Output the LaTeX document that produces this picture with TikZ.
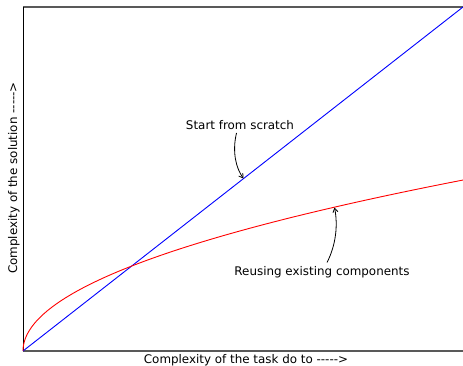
\documentclass[tikz,border=0pt]{standalone}
\usepackage{fontspec}
\setmainfont{DejaVu Sans}
\usetikzlibrary{arrows.meta}
\newcommand\myarrowtext{-{}-{}-{}-{}-{}>}
\begin{document}
\begin{tikzpicture}[x=1pt,y=-1pt,
  lbl/.style={font=\fontsize{11.9}{14}\selectfont, inner sep=0pt, anchor=base},
  frameline/.style={draw=black!65, line width=1.2pt},
  axisline/.style={draw=black, line width=1pt},
  callout/.style={draw=black, line width=0.8pt, -{Straight Barb[length=4pt,width=5pt]}}]
\useasboundingbox (0,0) rectangle (463,366);
\coordinate (O) at (23,351);
\coordinate (TL) at (23,7);
\coordinate (TR) at (463,7);
\coordinate (BR) at (463,351);
\draw[frameline] (TL) -- (TR);
\draw[frameline] (O) -- (BR);
\draw[axisline] (O) -- (TL);
% curves
\draw[blue, line width=0.9pt] (O) -- (TR);
\draw[red, line width=0.9pt] plot[domain=0:20.976, samples=120, variable=\t] ({23+\t*\t}, {351-8.15*\t});
% labels
\node[lbl] (scratch) at (240,130) {Start from scratch};
\node[lbl] (reuse) at (322,275) {Reusing existing components};
\node[lbl] (xlab) at (246,363) {Complexity of the task do to \myarrowtext};
\node[lbl, rotate=90] (ylab) at (17,178) {Complexity of the solution \myarrowtext};
% callouts
\coordinate (s1) at (236.5,133);
\coordinate (s2) at (243.5,178.5);
\coordinate (r1) at (327,262.5);
\coordinate (r2) at (334.5,207.5);
\draw[callout] (s1) .. controls (232,152) and (236,168) .. (s2);
\draw[callout] (r1) .. controls (336,245) and (338,225) .. (r2);
\end{tikzpicture}
\end{document}
